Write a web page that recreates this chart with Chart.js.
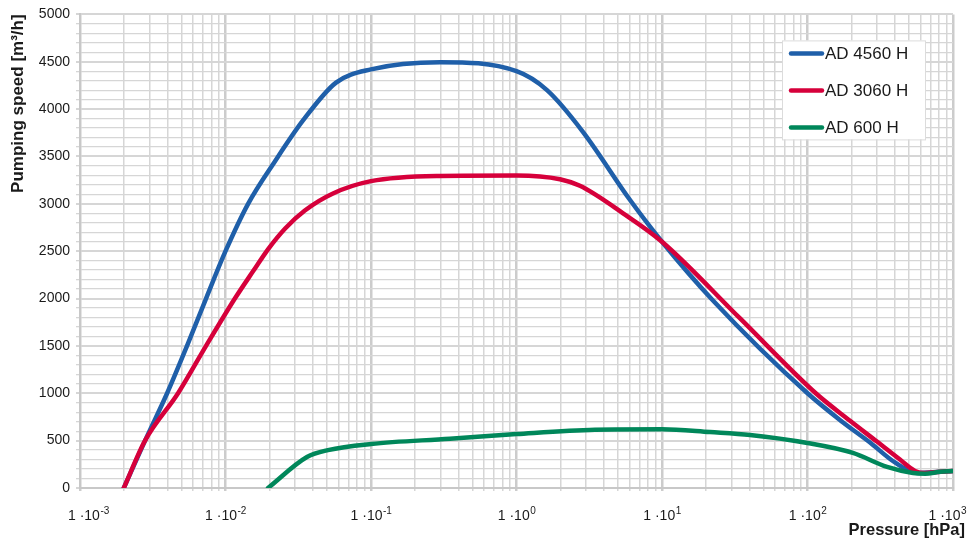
<!DOCTYPE html>
<html>
<head>
<meta charset="utf-8">
<script src="https://cdn.jsdelivr.net/npm/chart.js@4.4.0/dist/chart.umd.min.js"></script>
<style>
  html, body { margin: 0; padding: 0; background: #fff; }
</style>
</head>
<body>
<canvas id="myChart" width="971" height="539"></canvas>
<script>
// Data (pressure in hPa, pumping speed in m3/h)
const seriesNames = ['AD 4560 H', 'AD 3060 H', 'AD 600 H'];

const pressure4560 = [0.002, 0.0028, 0.00397, 0.00544, 0.00735, 0.01, 0.0143, 0.0219, 0.0341, 0.0575, 0.1, 0.298, 1.0, 1.62, 2.86, 6.03, 10, 22.4, 100, 173, 269, 399, 566, 776, 1000];
const speed4560    = [0, 500, 1000, 1500, 2000, 2500, 3000, 3450, 3880, 4280, 4420, 4495, 4400, 4200, 3760, 3040, 2600, 1980, 1000, 700, 480, 270, 158, 168, 180];

const pressure3060 = [0.002, 0.0028, 0.00472, 0.00735, 0.0116, 0.0155, 0.0196, 0.0257, 0.0351, 0.0548, 0.1, 0.298, 1.0, 1.99, 2.73, 5.4, 10, 34.4, 114, 196, 300, 432, 548, 642, 814, 1000];
const speed3060    = [0, 500, 1000, 1500, 2000, 2290, 2520, 2740, 2930, 3110, 3240, 3295, 3300, 3260, 3190, 2900, 2600, 1790, 1000, 710, 490, 300, 180, 158, 172, 180];

const pressure600 = [0.0196, 0.0363, 0.0506, 0.1, 0.349, 1.0, 3.46, 10, 21.4, 40.3, 100, 205, 352, 531, 642, 814, 1000];
const speed600    = [0, 327, 400, 465, 520, 570, 615, 620, 590, 560, 475, 370, 222, 158, 150, 172, 180];

// Axis ticks
const xTickValues = [0.001, 0.01, 0.1, 1, 10, 100, 1000];
const xTickBase = '1 \u00B710';
const xTickExps = ['-3', '-2', '-1', '0', '1', '2', '3'];
const xTitle = 'Pressure [hPa]';
const yTitle = 'Pumping speed [m\u00B3/h]';

const FONT = '"Liberation Sans", Arial, Helvetica, sans-serif';
Chart.defaults.font.family = FONT;
Chart.defaults.color = '#1a1a1a';

function points(px, py) {
  return px.map((p, i) => ({ x: p, y: py[i] }));
}

// grid positions 1..9 in each decade
function logGridTicks() {
  const out = [];
  for (let d = 0; d < xTickValues.length - 1; d++) {
    for (let k = 1; k < 10; k++) out.push({ value: +(k * xTickValues[d]).toPrecision(3) });
  }
  out.push({ value: xTickValues[xTickValues.length - 1] });
  return out;
}

// Legend box, superscript tick labels and the x title
const overlay = {
  id: 'overlay',
  afterDraw(chart) {
    const ctx = chart.ctx;
    const x = chart.scales.x;
    const area = chart.chartArea;
    ctx.save();

    // x tick labels
    ctx.textBaseline = 'alphabetic';
    ctx.fillStyle = '#1a1a1a';
    xTickValues.forEach((v, i) => {
      ctx.font = '14px ' + FONT;
      const bw = ctx.measureText(xTickBase).width;
      ctx.font = '10px ' + FONT;
      const ew = ctx.measureText(xTickExps[i]).width;
      let left = x.getPixelForValue(v) - (bw + ew) / 2;
      left = Math.min(Math.max(left, 68), 966 - bw - ew);
      ctx.font = '14px ' + FONT;
      ctx.textAlign = 'left';
      ctx.fillText(xTickBase, left, 520);
      ctx.font = '10px ' + FONT;
      ctx.fillText(xTickExps[i], left + bw + 0.5, 514);
    });

    // x title
    ctx.font = 'bold 16.5px ' + FONT;
    ctx.textAlign = 'right';
    ctx.fillText(xTitle, 965, 535);

    // legend
    const bx = area.right - 171, by = area.top + 26;
    ctx.fillStyle = '#fff';
    ctx.fillRect(bx, by, 143, 99);
    ctx.strokeStyle = '#dcdcdc';
    ctx.lineWidth = 1;
    ctx.strokeRect(bx + 0.5, by + 0.5, 143, 99);
    ctx.font = '17px ' + FONT;
    ctx.textBaseline = 'middle';
    ctx.textAlign = 'left';
    seriesNames.forEach((name, i) => {
      const ds = chart.data.datasets.find(d => d.label === name);
      const ly = by + 13 + i * 37;
      ctx.strokeStyle = ds.borderColor;
      ctx.lineWidth = 4.5;
      ctx.lineCap = 'round';
      ctx.beginPath();
      ctx.moveTo(bx + 9, ly);
      ctx.lineTo(bx + 40, ly);
      ctx.stroke();
      ctx.fillStyle = '#1a1a1a';
      ctx.fillText(name, bx + 43, ly + 1);
    });
    ctx.restore();
  }
};

const data = {
  datasets: [
    {
      label: seriesNames[0],
      data: points(pressure4560, speed4560),
      borderColor: '#1f5fa9',
      order: 3
    },
    {
      label: seriesNames[1],
      data: points(pressure3060, speed3060),
      borderColor: '#d6003b',
      order: 2
    },
    {
      label: seriesNames[2],
      data: points(pressure600, speed600),
      borderColor: '#00875a',
      order: 1
    }
  ]
};

const config = {
  type: 'line',
  data,
  options: {
    responsive: false,
    animation: false,
    layout: { padding: { left: 0, right: 18, top: 14, bottom: 0 } },
    elements: {
      line: { borderWidth: 4.5, cubicInterpolationMode: 'monotone', borderCapStyle: 'round', borderJoinStyle: 'round' },
      point: { radius: 0 }
    },
    plugins: {
      legend: { display: false },
      tooltip: { enabled: false }
    },
    scales: {
      x: {
        type: 'logarithmic',
        min: 0.001,
        max: 1000,
        afterBuildTicks: s => { s.ticks = logGridTicks(); },
        afterFit: s => { s.height = 51; s.paddingLeft = 0; s.paddingRight = 0; },
        ticks: { display: false, autoSkip: false },
        grid: {
          color: c => (xTickValues.includes(c.tick.value) ? '#cccccc' : '#d6d6d6'),
          lineWidth: c => (xTickValues.includes(c.tick.value) ? 2.5 : 1.5),
          tickLength: 3
        },
        border: { color: '#c8c8c8', width: 2 }
      },
      y: {
        min: 0,
        max: 5000,
        afterFit: s => { s.width = 80; },
        ticks: {
          stepSize: 100,
          autoSkip: false,
          padding: 6,
          font: { size: 14 },
          color: '#1a1a1a',
          callback: v => (v % 500 === 0 ? String(v) : '')
        },
        grid: {
          color: '#d6d6d6',
          lineWidth: c => (c.tick.value % 500 === 0 ? 2 : 1.3),
          tickLength: 4
        },
        border: { color: '#c8c8c8', width: 2 },
        title: {
          display: true,
          text: yTitle,
          align: 'end',
          color: '#1a1a1a',
          font: { size: 17, weight: 'bold' },
          padding: { top: 8, bottom: 0 }
        }
      }
    }
  },
  plugins: [overlay]
};

const myChart = new Chart(document.getElementById('myChart'), config);
</script>
</body>
</html>
